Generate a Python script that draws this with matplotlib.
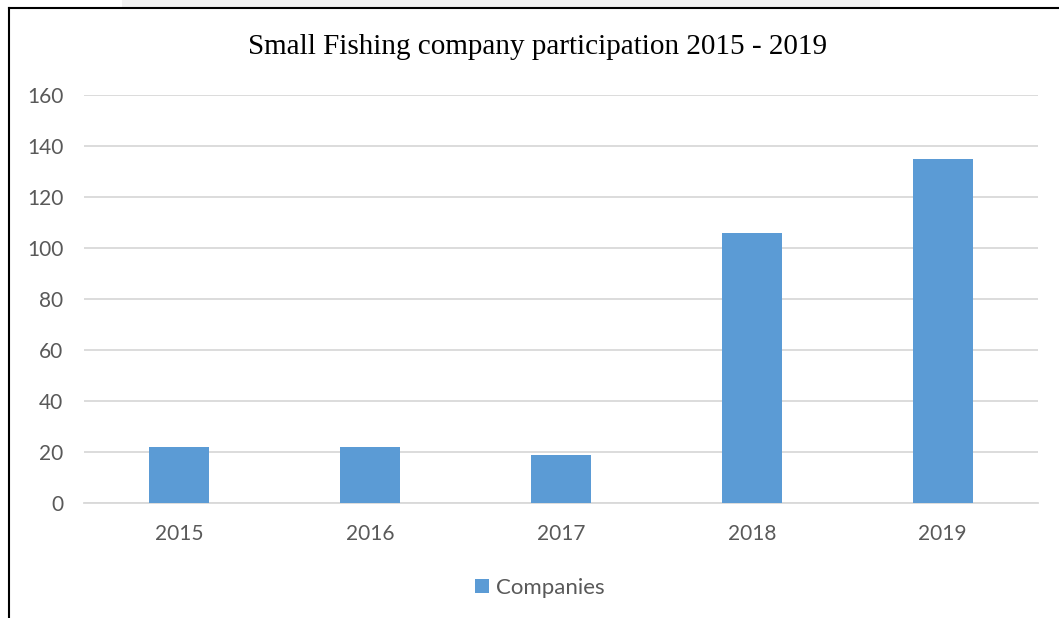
import matplotlib.pyplot as plt
from matplotlib.lines import Line2D
from matplotlib.patches import Rectangle

years = ['2015', '2016', '2017', '2018', '2019']
companies = [22, 22, 19, 106, 135]
yticks = [0, 20, 40, 60, 80, 100, 120, 140, 160]

W, H = 1059, 618
fig = plt.figure(figsize=(W / 100, H / 100), dpi=100)

# axes box in pixel terms
left, right, top, bottom = 84, 1038, 95, 503
ax = fig.add_axes([left / W, 1 - bottom / H, (right - left) / W, (bottom - top) / H])

bar_color = '#5b9bd5'
tick_color = '#595959'
grid_color = '#d9d9d9'

x = range(len(years))
bars = ax.bar(x, companies, width=0.315, color=bar_color, zorder=3, label='Companies')

ax.set_xlim(-0.5, len(years) - 0.5)
ax.set_ylim(0, 160)
ax.set_yticks(yticks)
ax.set_xticks(list(x))
ax.set_xticklabels(years)
ax.yaxis.grid(True, color=grid_color, linewidth=1.3, zorder=0)
ax.set_axisbelow(True)
for s in ['top', 'right', 'left']:
    ax.spines[s].set_visible(False)
ax.spines['bottom'].set_color(grid_color)
ax.spines['bottom'].set_linewidth(1.3)
ax.tick_params(axis='both', length=0, labelsize=15, colors=tick_color, labelfontfamily='Lato')
ax.tick_params(axis='y', pad=15)
ax.tick_params(axis='x', pad=15)

fig.text(538 / W, 1 - 47 / H, 'Small Fishing company participation 2015 - 2019',
         ha='center', va='center', fontsize=21, family='Liberation Serif', color='black')

leg = fig.legend(handles=[bars], loc='center', bbox_to_anchor=(540 / W, 1 - 588 / H),
                 frameon=False, prop={'family': 'Lato', 'size': 16},
                 handlelength=0.62, handleheight=0.62, handletextpad=0.3)
for t in leg.get_texts():
    t.set_color(tick_color)

# frame lines of the screenshot
fig.add_artist(Rectangle((122 / W, 1 - 7 / H), (880 - 122) / W, 7 / H,
                         transform=fig.transFigure, facecolor='#f1f1f1', edgecolor='none'))
fig.add_artist(Line2D([8.5 / W, 1], [1 - 8 / H, 1 - 8 / H], transform=fig.transFigure,
                      color='black', linewidth=1.5))
fig.add_artist(Line2D([8.5 / W, 8.5 / W], [0, 1 - 8 / H], transform=fig.transFigure,
                      color='black', linewidth=1.5))

fig.savefig('out.png', dpi=100)
